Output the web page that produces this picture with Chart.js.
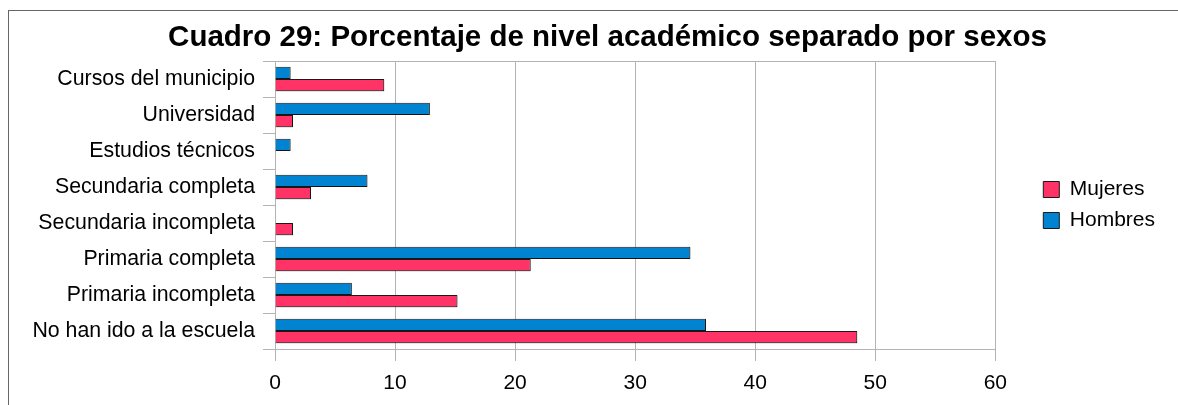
<!DOCTYPE html>
<html>
<head>
<meta charset="utf-8">
<script src="https://cdn.jsdelivr.net/npm/chart.js@4"></script>
<style>
	html, body { margin: 0; padding: 0; background: #fff; overflow: hidden; }
	#frame { position: absolute; left: 8px; top: 10px; width: 1200px; height: 420px; border-top: 1px solid #666; border-left: 1px solid #666; }
	#wrap { position: absolute; left: 9px; top: 11px; width: 1197px; height: 394px; }
</style>
</head>
<body>
<div id="frame"></div>
<div id="wrap"><canvas id="nivelChart"></canvas></div>
<script>
const categories = ['Cursos del municipio', 'Universidad', 'Estudios técnicos', 'Secundaria completa', 'Secundaria incompleta', 'Primaria completa', 'Primaria incompleta', 'No han ido a la escuela'];
const hombres = [1.3, 12.9, 1.3, 7.7, 0, 34.6, 6.4, 35.9];
const mujeres = [9.1, 1.5, 0, 3.0, 1.5, 21.3, 15.2, 48.5];
const xTicks = [0, 10, 20, 30, 40, 50, 60];

const font = 'Liberation Sans, Arial, sans-serif';
const gridGray = '#b3b3b3';

// light drop shadow under the bars, like the office chart
const barShadow = {
	id: 'barShadow',
	beforeDatasetsDraw(chart) {
		const c = chart.ctx;
		c.save();
		c.shadowColor = 'rgba(0,0,0,0.22)';
		c.shadowOffsetX = 1;
		c.shadowOffsetY = 1;
		c.shadowBlur = 0;
	},
	afterDatasetsDraw(chart) {
		chart.ctx.restore();
	}
};

const ctx1 = document.getElementById('nivelChart').getContext('2d');
new Chart(ctx1, {
	type: 'bar',
	data: {
		labels: categories,
		datasets: [{
			label: 'Hombres',
			data: hombres,
			backgroundColor: '#0084d1',
			borderColor: '#1a1a1a',
			borderWidth: (c) => (c.raw === 0 ? 0 : 1),
			barPercentage: 1,
			categoryPercentage: 0.68
		}, {
			label: 'Mujeres',
			data: mujeres,
			backgroundColor: '#ff3366',
			borderColor: '#1a1a1a',
			borderWidth: (c) => (c.raw === 0 ? 0 : 1),
			barPercentage: 1,
			categoryPercentage: 0.68
		}]
	},
	plugins: [barShadow],
	options: {
		indexAxis: 'y',
		responsive: true,
		maintainAspectRatio: false,
		animation: false,
		layout: { padding: 0 },
		plugins: {
			title: {
				display: true,
				text: 'Cuadro 29: Porcentaje de nivel académico separado por sexos',
				color: '#000',
				font: { family: font, size: 29.5, weight: 'bold' },
				padding: { top: 9, bottom: 5.6 }
			},
			legend: {
				position: 'right',
				fullSize: false,
				reverse: true,
				labels: {
					color: '#000',
					font: { family: font, size: 21 },
					boxWidth: 16,
					boxHeight: 16,
					padding: 10
				}
			},
			tooltip: { enabled: false }
		},
		scales: {
			x: {
				min: 0,
				max: 60,
				afterBuildTicks: (s) => { s.ticks = xTicks.map(v => ({ value: v })); },
				grid: { color: gridGray, tickLength: 12 },
				border: { color: gridGray },
				ticks: { color: '#000', font: { family: font, size: 21 }, padding: 10 },
				afterFit: (s) => { s.height = 56; }
			},
			y: {
				grid: {
					offset: true,
					color: (c) => (c.index === 0 || c.index === undefined ? gridGray : 'rgba(0,0,0,0)'),
					tickColor: gridGray,
					tickLength: 12
				},
				border: { color: gridGray },
				ticks: { color: '#000', font: { family: font, size: 21.3 }, padding: 8 },
				afterFit: (s) => { s.width = 266; }
			},
			// empty axes only used as spacing around the legend
			y2: {
				type: 'linear',
				axis: 'y',
				position: 'right',
				grid: { display: false, drawTicks: false },
				border: { display: false },
				ticks: { display: false },
				afterFit: (s) => { s.width = 38; }
			},
			y3: {
				type: 'linear',
				axis: 'y',
				position: 'right',
				weight: 2000,
				grid: { display: false, drawTicks: false },
				border: { display: false },
				ticks: { display: false },
				afterFit: (s) => { s.width = 41; }
			}
		}
	}
});
</script>
</body>
</html>
